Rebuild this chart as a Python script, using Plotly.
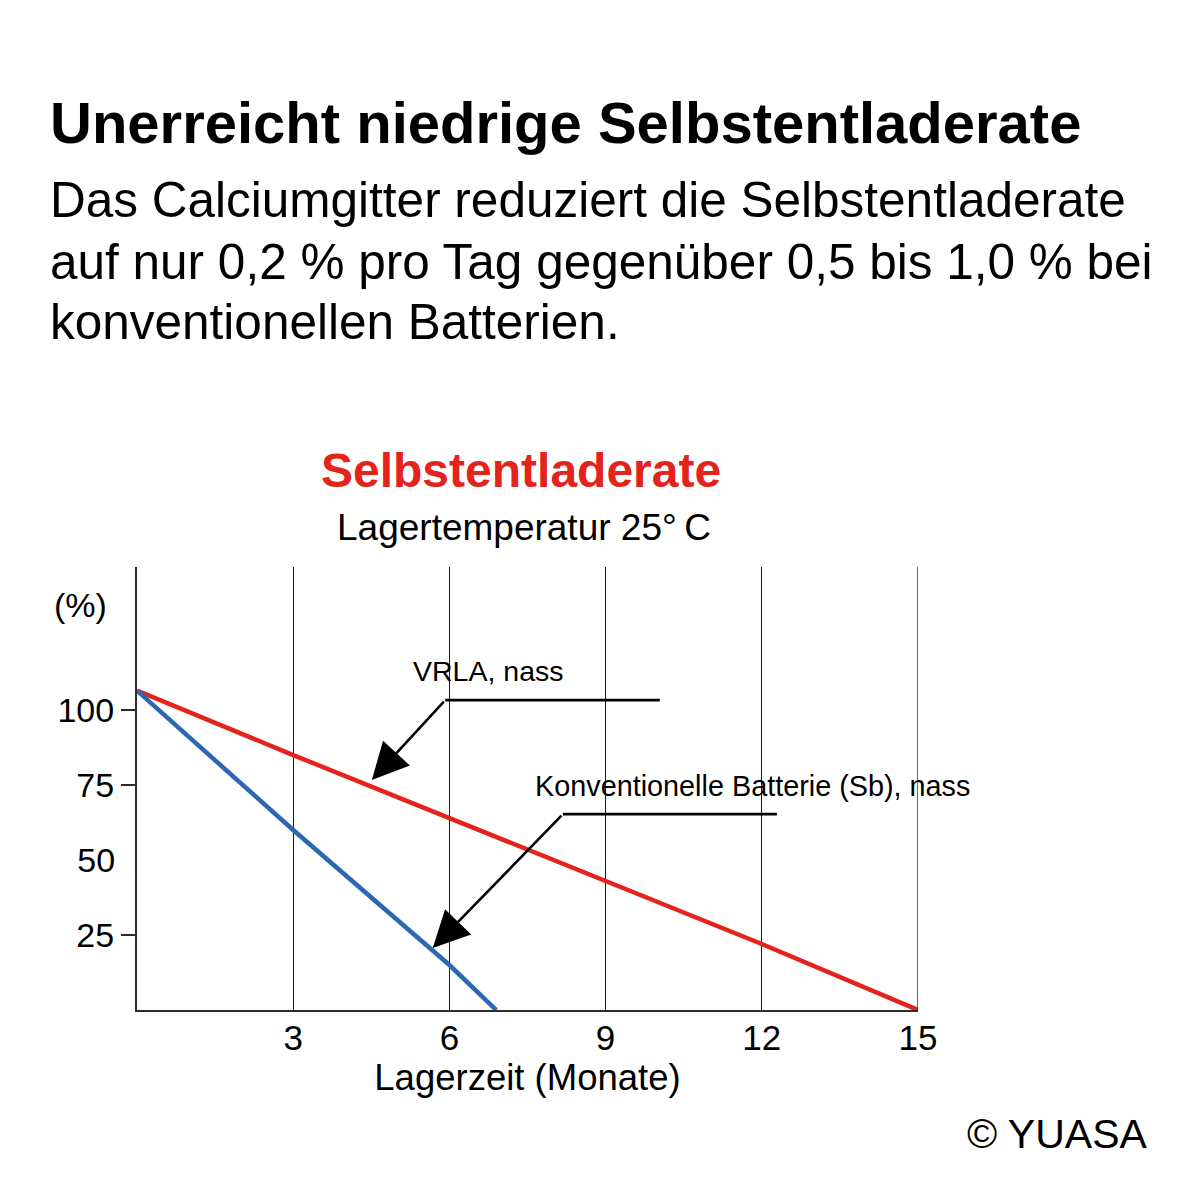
import plotly.graph_objects as go

# ---- data ----
red_months = [0, 3, 6, 9, 12, 15]
red_values = [106.5, 85, 64, 43, 22, 0]
blue_months = [0, 3, 6, 6.9]
blue_values = [106.5, 60, 15, 0]
x_ticks = [3, 6, 9, 12, 15]
y_ticks = [25, 75, 100]
y_tick_unmarked = [50]

label_vrla = "VRLA, nass"
label_conv = "Konventionelle Batterie (Sb), nass"
# arrow annotations: (head_x, head_y, tail_x, tail_y, leader_end_x)
arrow_vrla = (4.51, 76.7, 5.92, 103.3, 10.04)
arrow_conv = (5.68, 20.7, 8.18, 65.3, 12.29)

FONT = "Liberation Sans, Arial, Helvetica, sans-serif"
RED = "#e3231c"
BLUE = "#2b67b3"
AX = "#2b2b2b"

OFF = 8  # default page body margin
W, H = 1185, 1185
# target plot-area edges in window pixels
L, R, T, B = 137, 918, 567, 1010


def px(x):
    return (x - L) / (R - L)


def py(y):
    return (B - y) / (B - T)


fig = go.Figure()
fig.add_trace(go.Scatter(x=red_months, y=red_values, mode="lines",
                         line=dict(color=RED, width=4.5), showlegend=False, hoverinfo="skip"))
fig.add_trace(go.Scatter(x=blue_months, y=blue_values, mode="lines",
                         line=dict(color=BLUE, width=4.5), showlegend=False, hoverinfo="skip"))
# invisible trace for second y axis (label "50" without tick mark)
fig.add_trace(go.Scatter(x=[None], y=[None], yaxis="y2", showlegend=False))

ann = []


def text(x, y, s, size, color="black", bold=False, xanchor="left"):
    if bold:
        s = "<b>" + s + "</b>"
    ann.append(dict(x=px(x), y=py(y), xref="paper", yref="paper", text=s, showarrow=False,
                    xanchor=xanchor, yanchor="middle",
                    font=dict(family=FONT, size=size, color=color)))


text(48, 122, "Unerreicht niedrige Selbstentladerate", 58, bold=True)
text(48, 200, "Das Calciumgitter reduziert die Selbstentladerate", 49.5)
text(48, 261, "auf nur 0,2 % pro Tag gegenüber 0,5 bis 1,0 % bei", 49.5)
text(48, 321, "konventionellen Batterien.", 49.5)
text(521, 470, "Selbstentladerate", 48, color=RED, bold=True, xanchor="center")
text(524, 527, "Lagertemperatur 25°\u2009C", 37, xanchor="center")
text(80, 605, "(%)", 34, xanchor="center")
text(488, 671, label_vrla, 28.5, xanchor="center")
text(752, 786, label_conv, 28.8, xanchor="center")
text(1150, 1134, "© YUASA", 41, xanchor="right")

shapes = []
for (hx, hy, tx, ty, lx) in (arrow_vrla, arrow_conv):
    ann.append(dict(x=hx, y=hy, ax=tx, ay=ty, xref="x", yref="y", axref="x", ayref="y",
                    text="", showarrow=True, arrowhead=2, arrowsize=2.8, arrowwidth=2.6,
                    arrowcolor="black", standoff=0))
    shapes.append(dict(type="line", xref="x", yref="y", x0=tx, y0=ty, x1=lx, y1=ty,
                       line=dict(color="black", width=2.6)))
# gridline at the last tick (plot edge)
shapes.append(dict(type="line", xref="x", yref="paper", x0=x_ticks[-1], x1=x_ticks[-1], y0=0, y1=1,
                   line=dict(color="#1a1a1a", width=1.3)))

fig.update_layout(
    width=W, height=H, autosize=False,
    margin=dict(l=L - OFF, r=W - (R - OFF), t=T - OFF, b=H - (B - OFF), pad=0),
    paper_bgcolor="white", plot_bgcolor="white",
    annotations=ann, shapes=shapes,
    xaxis=dict(range=[0, 15], tickvals=x_ticks, ticktext=[str(v) for v in x_ticks],
               showgrid=True, gridcolor="#1a1a1a", gridwidth=1.3,
               showline=True, linecolor=AX, linewidth=2, ticks="", zeroline=False,
               ticklabelstandoff=-4,
               tickfont=dict(family=FONT, size=35, color="black"),
               title=dict(text="Lagerzeit (Monate)", font=dict(family=FONT, size=36.5, color="black"),
                          standoff=4)),
    yaxis=dict(range=[0, 147.7], tickvals=y_ticks, ticktext=[str(v) for v in y_ticks],
               showgrid=False, zeroline=False, showline=True, linecolor=AX, linewidth=2,
               ticks="outside", ticklen=14, tickwidth=2, tickcolor=AX,
               tickfont=dict(family=FONT, size=34, color="black")),
    yaxis2=dict(range=[0, 147.7], overlaying="y", side="left", tickvals=y_tick_unmarked,
                ticktext=[str(v) for v in y_tick_unmarked], showgrid=False, zeroline=False,
                showline=False, ticks="outside", ticklen=14, tickwidth=2,
                tickcolor="rgba(0,0,0,0)",
                tickfont=dict(family=FONT, size=34, color="black")),
)

fig.write_html("out.html")
